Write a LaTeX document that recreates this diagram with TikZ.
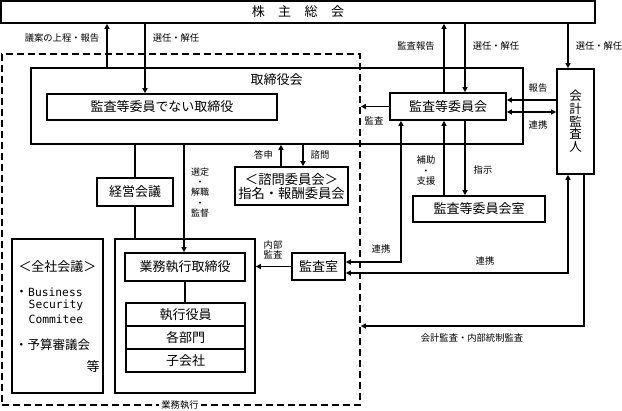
\documentclass[tikz,border=0pt]{standalone}
\usepackage{fontspec}
\setmainfont{Noto Sans CJK JP}
\newfontfamily\monofont{DejaVu Sans Mono}
\usetikzlibrary{arrows.meta}
\begin{document}
\begin{tikzpicture}[x=1pt,y=-1pt,
  bx/.style={draw,line width=1.6pt,inner sep=0pt,font=\fontsize{13}{14.5}\selectfont,align=center},
  big/.style={inner sep=0pt,font=\fontsize{13}{14.5}\selectfont},
  lbl/.style={inner sep=0pt,font=\fontsize{9.3}{10.4}\selectfont,align=center},
  conn/.style={line width=1.5pt},
  arr/.style={conn,-{Triangle[length=5pt,width=5pt]}},
  darr/.style={conn,{Triangle[length=5pt,width=5pt]}-{Triangle[length=5pt,width=5pt]}}]
\useasboundingbox (0,0) rectangle (622,411);

% dashed execution region
\node[draw,line width=1.6pt,dash pattern=on 7pt off 4pt,minimum width=358pt,minimum height=351pt,inner sep=0pt] (gyomu) at (181,229.5) {};

% boxes
\node[bx,minimum width=594pt,minimum height=22pt] (sokai) at (298,12) {株\hspace{13.5pt}主\hspace{13.5pt}総\hspace{13.5pt}会};
\node[bx,minimum width=492pt,minimum height=76pt] (tori) at (277,106) {};
\node[big] (toritxt) at (276.5,80) {取締役会};
\node[bx,minimum width=230pt,minimum height=26pt] (nontori) at (162,107) {監査等委員でない取締役};
\node[bx,minimum width=116pt,minimum height=27pt] (iinkai) at (448,106.5) {監査等委員会};
\node[bx,minimum width=37pt,minimum height=105pt,font=\fontsize{12.5}{12.7}\selectfont] (kaikei) at (575.5,121.5) {会\\計\\監\\査\\人};
\node[bx,minimum width=132pt,minimum height=26pt] (iinshitsu) at (479,209) {監査等委員会室};
\node[bx,minimum width=113pt,minimum height=38pt,font=\fontsize{13.3}{14}\selectfont] (shimon) at (291.5,186) {＜諮問委員会＞\\指名・報酬委員会};
\node[bx,minimum width=76pt,minimum height=28pt] (keiei) at (135,192) {経営会議};
\node[bx,minimum width=140pt,minimum height=154pt] (gbox) at (185,316) {};
\node[bx,minimum width=120pt,minimum height=28pt] (gtori) at (185,267) {業務執行取締役};
\node[bx,minimum width=119pt,minimum height=23pt] (shikkou) at (185.5,314.5) {執行役員};
\node[bx,minimum width=119pt,minimum height=23pt] (bumon) at (185.5,337.5) {各部門};
\node[bx,minimum width=119pt,minimum height=23pt] (kogaisha) at (185.5,360.5) {子会社};
\node[bx,minimum width=91pt,minimum height=154pt] (zensha) at (57.5,316) {};
\node[bx,minimum width=53pt,minimum height=27pt] (kansa) at (318.5,266.5) {監査室};

% text inside zensha
\node[big] (z1) at (57.5,267) {＜全社会議＞};
\node[big,anchor=west] (z2) at (15,292) {・\fontsize{11.3}{12}\monofont Business};
\node[big,anchor=west,font=\fontsize{11.3}{12}\monofont] (z3) at (28.5,305.5) {Security};
\node[big,anchor=west,font=\fontsize{11.3}{12}\monofont] (z4) at (28.5,319) {Commitee};
\node[big,anchor=west,font=\fontsize{12.5}{14}\selectfont] (z5) at (15,345) {・予算審議会};
\node[big] (z6) at (93,367) {等};

% connectors to / from shareholders meeting
\draw[arr] (107,0 |- tori.north) -- (107,0 |- sokai.south);
\node[lbl] (l1) at (62,38) {議案の上程・報告};
\draw[arr] (145,0 |- sokai.south) -- (145,0 |- nontori.north);
\node[lbl] (l2) at (176,38) {選任・解任};
\draw[arr] (444,0 |- iinkai.north) -- (444,0 |- sokai.south);
\node[lbl] (l3) at (416,46) {監査報告};
\draw[arr] (465,0 |- sokai.south) -- (465,0 |- iinkai.north);
\node[lbl] (l4) at (496,46) {選任・解任};
\draw[arr] (568,0 |- sokai.south) -- (568,0 |- kaikei.north);
\node[lbl] (l5) at (599,46) {選任・解任};

% audit committee <-> accounting auditor
\draw[arr] (kaikei.west |- 0,100) -- (iinkai.east |- 0,100);
\node[lbl] (l6) at (538,88) {報告};
\draw[darr] (iinkai.east |- 0,112) -- (kaikei.west |- 0,112);
\node[lbl] (l7) at (538,125) {連携};

% audit committee -> execution region
\draw[arr] (iinkai.west) -- (gyomu.east |- iinkai.west);
\node[lbl] (l8) at (374,121) {監査};

% audit committee <-> audit office
\draw[darr] (kansa.east |- 0,262) -- (401,262) -- (401,0 |- iinkai.south);
\node[lbl] (l9) at (381,249) {連携};
\draw[arr] (444,0 |- iinshitsu.north) -- (444,0 |- iinkai.south);
\node[lbl] (l10) at (426,170.5) {補助\\・\\支援};
\draw[arr] (465,0 |- iinkai.south) -- (465,0 |- iinshitsu.north);
\node[lbl] (l11) at (483,170) {指示};

% accounting auditor <-> audit office
\draw[darr] (kansa.east |- 0,273) -- (568,273) -- (568,0 |- kaikei.south);
\node[lbl] (l12) at (485,261) {連携};
\draw[arr] (584,0 |- kaikei.south) -- (584,326) -- (gyomu.east |- 0,326);
\node[lbl] (l13) at (472,338) {会計監査・内部統制監査};

% audit office -> execution
\draw[arr] (kansa.west) -- (gbox.east |- kansa.west);
\node[lbl] (l14) at (273,250) {内部\\監査};

% advisory committee
\draw[arr] (281,0 |- shimon.north) -- (281,0 |- tori.south);
\node[lbl] (l15) at (263.5,155) {答申};
\draw[arr] (303,0 |- tori.south) -- (303,0 |- shimon.north);
\node[lbl] (l16) at (320,155) {諮問};

% management meeting
\draw[conn] (135,0 |- tori.south) -- (keiei.north);
\draw[conn] (keiei.south) -- (135,0 |- gbox.north);

% appoint / dismiss / supervise
\draw[arr] (184,0 |- tori.south) -- (184,0 |- gtori.north);
\node[lbl,font=\fontsize{9}{10.3}\selectfont] (l17) at (200,192.5) {選定\\・\\解職\\・\\監督};
\draw[conn] (185,0 |- gtori.south) -- (185,0 |- shikkou.north);

% label on dashed border
\node[lbl,fill=white,inner xsep=2pt,inner ysep=1pt] (gyomulbl) at (180,405) {業務執行};
\end{tikzpicture}
\end{document}
